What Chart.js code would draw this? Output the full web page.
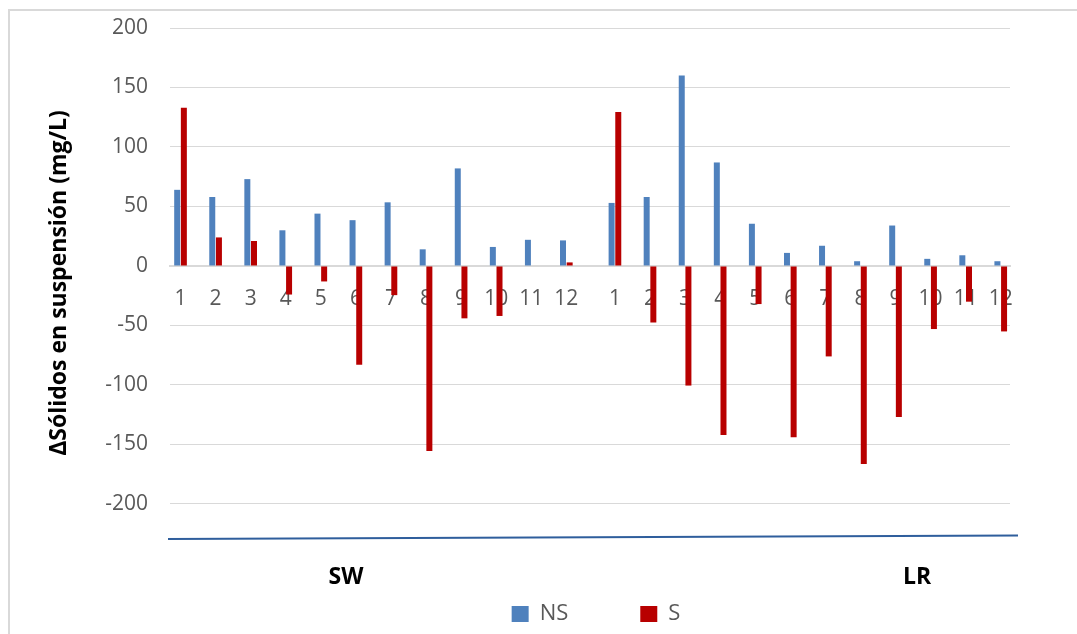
<!DOCTYPE html>
<html>
<head>
<meta charset="utf-8">
<script src="https://cdn.jsdelivr.net/npm/chart.js@4.4.1/dist/chart.umd.min.js"></script>
<style>
  html, body { margin: 0; padding: 0; background: #fff; overflow: hidden; }
  #frame { position: absolute; left: 8px; top: 9px; width: 1200px; height: 800px; border: 2px solid #d9d9d9; }
  #wrap { position: absolute; left: 0; top: 0; width: 1077px; height: 634px; }
</style>
</head>
<body>
<div id="frame"></div>
<div id="wrap"><canvas id="solidsChart" width="1077" height="634"></canvas></div>
<script>
// Data (mg/L)
const groups = ['SW', 'LR'];
const months = ['1', '2', '3', '4', '5', '6', '7', '8', '9', '10', '11', '12'];
const swNS = [64, 58, 73, 30, 44, 38.5, 53.5, 14, 82, 16, 22, 21.5];
const swS  = [133, 24, 21, -24, -13, -83, -24.5, -155.5, -44, -42, 0, 3];
const lrNS = [53, 58, 160, 87, 35.5, 11, 17, 4, 34, 6, 9, 4];
const lrS  = [129.5, -47.5, -100.5, -142, -32, -144, -76, -166.5, -127, -53, -30, -55];
const yTicks = [-200, -150, -100, -50, 0, 50, 100, 150, 200];

// extra space between the two site groups, in category widths
const groupGap = 0.386;
// where the SW / LR captions sit, in category units
const groupLabelAt = [4.72, 21.0];

const positions = [];
const tickLabels = [];
groups.forEach((g, gi) => {
  months.forEach((m, i) => {
    positions.push(gi * (months.length + groupGap) + i);
    tickLabels.push(m);
  });
});

const nsValues = swNS.concat(lrNS);
const sValues = swS.concat(lrS);

function toPoints(values) {
  return values.map((v, i) => ({ x: positions[i], y: v }));
}

Chart.defaults.font.family = "'Open Sans', sans-serif";

// bottom frame line under the plot (slight perspective tilt)
const floorLine = {
  id: 'floorLine',
  afterDraw(chart) {
    const { ctx, chartArea } = chart;
    ctx.save();
    ctx.strokeStyle = '#2f5e9c';
    ctx.lineWidth = 2;
    ctx.beginPath();
    ctx.moveTo(chartArea.left - 2, chartArea.bottom + 1);
    ctx.lineTo(chartArea.right + 8, chartArea.bottom - 2.5);
    ctx.stroke();
    ctx.restore();
  }
};

// SW / LR captions under the plot
const groupCaptions = {
  id: 'groupCaptions',
  afterDraw(chart) {
    const { ctx, chartArea } = chart;
    const x = chart.scales.x;
    ctx.save();
    ctx.font = "bold 23px 'Open Sans', sans-serif";
    ctx.fillStyle = '#000';
    ctx.textAlign = 'center';
    ctx.textBaseline = 'middle';
    groups.forEach((g, gi) => {
      ctx.fillText(g, x.getPixelForValue(groupLabelAt[gi]), chartArea.bottom + 39);
    });
    ctx.restore();
  }
};

// move the legend to where it sits in the original (and stop it being clipped)
const legendShift = {
  id: 'legendShift',
  afterLayout(chart) {
    const lg = chart.legend;
    if (!lg) return;
    lg.left += 91;
    lg.right += 91;
    lg.top -= 7;
    lg.bottom = lg.top + 110;
    lg.height = 110;
  }
};

const ctx = document.getElementById('solidsChart').getContext('2d');
new Chart(ctx, {
  type: 'bar',
  data: {
    datasets: [
      {
        label: 'NS',
        data: toPoints(nsValues),
        backgroundColor: '#4f81bd',
        borderWidth: 0
      },
      {
        label: 'S',
        data: toPoints(sValues),
        backgroundColor: '#b80000',
        borderWidth: 0
      }
    ]
  },
  options: {
    responsive: false,
    animation: false,
    layout: { padding: { left: 0, right: 67, top: 28, bottom: 36 } },
    categoryPercentage: 0.38,
    barPercentage: 0.9,
    plugins: {
      legend: {
        position: 'bottom',
        maxHeight: 60,
        labels: {
          boxWidth: 17,
          boxHeight: 16,
          padding: 72,
          color: '#595959',
          font: { size: 22 }
        }
      },
      tooltip: { enabled: false }
    },
    scales: {
      x: {
        type: 'linear',
        offset: false,
        position: { y: 0 },
        min: -0.3,
        max: 23.65,
        grid: { display: false, drawTicks: false, offset: false },
        border: { display: true, color: '#d9d9d9', width: 2 },
        afterBuildTicks: function(scale) {
          scale.ticks = positions.map(v => ({ value: v }));
        },
        ticks: {
          autoSkip: false,
          maxRotation: 0,
          minRotation: 0,
          padding: 20,
          color: '#595959',
          font: { size: 21 },
          callback: function(value, index) { return tickLabels[index]; }
        }
      },
      y: {
        min: -228.6,
        max: 200,
        afterBuildTicks: function(scale) {
          scale.ticks = yTicks.map(v => ({ value: v }));
        },
        afterFit: function(scale) {
          scale.width = 170;
          // the tick padding should not push the plot area in
          scale.paddingTop = 0;
          scale.paddingBottom = 0;
        },
        grid: { color: '#d9d9d9', lineWidth: 1, drawTicks: false },
        border: { display: false },
        ticks: {
          padding: 22,
          color: '#595959',
          font: { size: 21 }
        },
        title: {
          display: true,
          text: 'ΔSólidos en suspensión (mg/L)',
          color: '#000',
          font: { size: 23, weight: 'bold' },
          padding: { top: 46, bottom: 0 }
        }
      }
    }
  },
  plugins: [floorLine, groupCaptions, legendShift]
});
</script>
</body>
</html>
